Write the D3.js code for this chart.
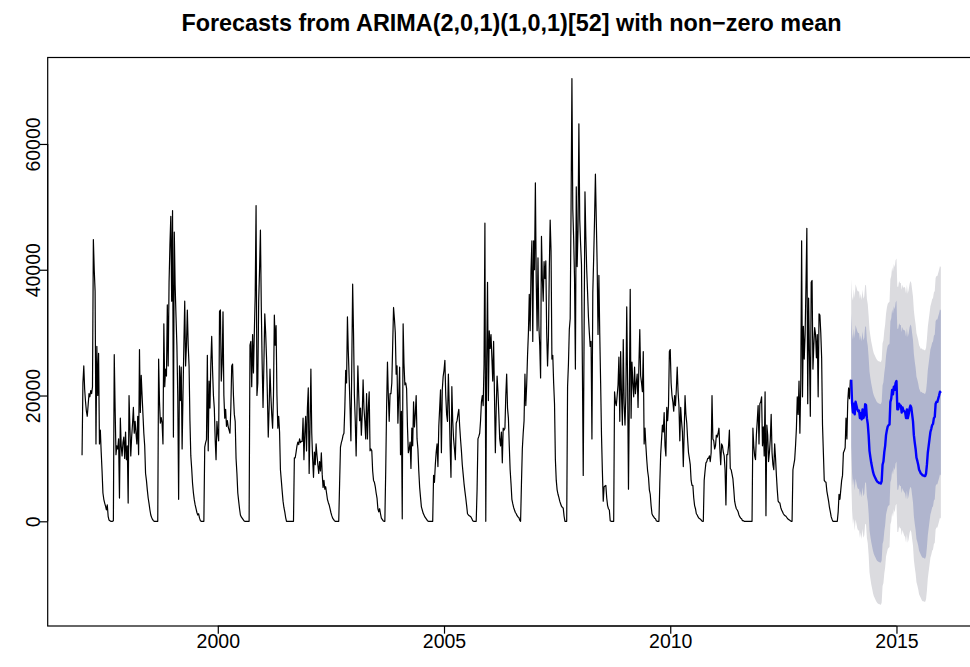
<!DOCTYPE html>
<html>
<head>
<meta charset="utf-8">
<script src="https://cdn.jsdelivr.net/npm/d3@7"></script>
<style>
  html, body { margin: 0; padding: 0; background: #ffffff; overflow: hidden; }
  svg { display: block; }
  text { font-family: "Liberation Sans", Arial, Helvetica, sans-serif; fill: #000; }
</style>
</head>
<body>
<svg id="chart" width="970" height="667"></svg>
<script>
// Weekly series, 52 observations per year, starting 1997 week 1
const startYear = 1997;
const freq = 52;

const obs1997 = [10500,22000,24700,21000,19000,17500,16700,18500,20300,19800,20800,20300,21400,44800,40000,36600,12300,27800,20000,26700,12300,14500,11000,8000,4500,3500,2900,2400,1800,2600,800,200,100,0,0,0,100,26500,18000,10600,12000,11500,13100,3700,16400,12000,10400,12500,13400,10000,14200,9800];
const obs1998 = [12000,2900,20000,15000,10400,13400,15500,18100,14000,15900,14000,12300,16700,10600,27300,17300,23200,20000,17000,14000,12000,7600,6500,5000,3700,2800,1800,1000,600,300,100,0,0,0,0,0,25800,19000,15600,16500,15600,12300,31400,21400,24200,23100,34400,24700,38000,44000,48500,35000];
const obs1999 = [49400,13400,46000,37500,32500,28000,20000,3500,24700,19200,24500,11500,20000,28000,35000,24700,28000,33600,28000,24700,16000,10400,8400,6000,4500,3400,2600,2000,1400,1000,1200,500,100,0,0,0,0,11800,12500,13000,26400,11200,22300,18000,25000,29400,24000,20000,18000,13000,9800,15900];
const obs2000 = [14000,12800,33400,33600,22300,25000,33300,20000,16400,17800,15100,16000,15000,14500,14000,18000,24700,25000,20000,17000,15900,10000,7600,4500,3200,2000,1000,700,500,300,100,0,0,0,0,0,0,28000,28600,21400,29700,23600,30000,36000,50200,20000,22000,35000,40000,46300,34100,25000];
const obs2001 = [18100,25000,33000,30000,26100,20000,13400,18000,24200,20000,17000,14800,20000,32800,28000,31100,20000,14800,16700,14200,8200,6500,4800,3200,2200,1500,600,0,0,0,0,0,0,0,0,0,10100,10100,11000,12000,12600,12200,13100,12500,12700,12700,16400,9800,14000,16700,11200,18000];
const obs2002 = [21200,7600,15000,24200,14000,10000,7000,11000,9000,12300,10500,9000,7600,9500,8000,10900,7500,5400,6500,5100,5500,4500,3500,3000,2600,2000,1400,900,500,300,100,0,0,0,0,0,6000,11800,12500,13000,13700,14000,18000,24000,22000,32500,27000,22800,18000,12800,25000,37700];
const obs2003 = [30000,20000,16000,10400,18000,24700,20000,16000,18000,13700,17000,22500,18000,15900,13100,20300,13100,18000,20600,11200,11500,11200,8000,6500,6200,5500,4500,3700,2000,1500,2000,1200,500,300,100,0,0,8000,18000,25300,20000,15900,20300,20300,22000,28000,34000,32200,30000,23400,24700,15600];
const obs2004 = [20000,24500,10600,17500,400,31400,25000,21700,22000,21100,15000,10900,11500,12600,8400,14800,12000,19000,15000,17000,20000,13100,11500,8000,5400,3800,2300,1800,1300,1000,700,500,300,100,0,0,0,0,0,0,7300,6200,9000,11000,12300,8700,15100,18000,20900,10900,20900,23000];
const obs2005 = [24000,25600,20000,17000,15900,23400,18400,12000,7000,21400,16000,13100,11500,9800,15600,16000,17000,17800,15100,13000,11200,9000,7500,6000,4800,3700,2500,1200,1000,900,800,700,400,100,0,0,0,0,5000,13100,13500,14000,16000,19000,20000,18400,25000,47400,0,25000,38000,19200];
const obs2006 = [30300,27500,29700,26000,22300,28600,20000,10900,18000,23100,20600,17000,13100,12000,14200,9300,14800,14500,14800,20000,23400,18000,16400,12000,8200,6000,3500,2800,2200,1800,1400,1200,900,700,600,200,0,6000,11500,14000,16000,23400,18400,21700,26400,30000,36100,30300,40000,44600,28600,44600];
const obs2007 = [40000,53800,38000,30300,41900,31100,28000,22800,45300,38600,35000,41300,38600,41400,30000,24700,29200,40000,47900,43000,25800,26400,22000,18700,9800,6500,5000,4300,3800,3200,2800,2400,2200,2100,800,0,0,0,21400,25000,30500,32200,49600,70400,49600,45000,38600,24200,53200,40500,46300,63200];
const obs2008 = [48000,44000,40800,25000,7300,30000,52400,45200,40000,36400,32500,30000,27800,28600,13100,36400,41900,48000,55200,48000,40800,29700,39100,29700,22000,13700,8000,3200,5500,5600,5700,3700,2500,2000,1800,100,0,0,0,0,20600,19000,18400,20000,21700,26100,15900,27000,20000,15300,28900,18700];
const obs2009 = [15300,20000,34100,22000,5100,20000,36900,16400,25300,22000,19800,24500,20300,22000,23400,18100,25000,30500,23100,22000,20600,27000,12300,14800,12000,9800,8000,7000,5000,4300,2500,1200,900,700,500,400,100,0,0,0,6000,10600,13000,15300,14200,17300,12000,10400,18100,16000,18400,27000];
const obs2010 = [27300,22000,20000,19000,17500,20000,18400,21000,24500,20600,18400,12800,18100,15900,14200,8700,14000,20000,17000,15600,13000,10900,10000,9000,6500,5700,5700,3700,2500,2000,1200,1000,700,500,400,300,100,0,0,6500,8000,9300,9500,10000,10000,10400,9500,10900,20000,13100,12800,11500];
const obs2011 = [12000,13700,13400,14000,14800,11500,9000,12300,12000,11000,10400,8200,2600,10600,10600,12000,14500,8400,8200,7500,6800,5100,3200,2500,2000,1800,1500,1000,700,500,400,100,100,0,0,0,0,0,0,0,0,0,0,14800,12000,10400,9800,13700,16000,18400,12300,18700];
const obs2012 = [19000,19800,12000,15000,10400,20600,900,15300,13700,9500,11000,13100,17000,10900,9000,8200,12300,10100,7300,5000,3200,3000,2900,2200,1800,1500,1200,1000,900,800,600,400,300,200,100,0,0,8200,9000,9800,12000,14800,19800,17000,22300,14000,22000,44600,19800,31000,25800,29700];
const obs2013 = [37500,46600,18700,35500,26400,16700,38000,38300,24200,28000,30800,29700,26000,29700,19800,33000,32800,30000,26000,15300,10900,6500,6300,6200,4800,4000,3200,2200,1500,700,300,0,0,0,0,0,0,1500,4300,3500,5000,6500,7300,10900,11200,11700,16400,13100,19000,21200,19500,22500];

// Two-year point forecast with 80% and 95% prediction intervals
const fcMean = [22500,18700,17300,18700,17000,19000,18400,17800,17500,17600,16400,17200,16200,17800,16400,16800,18600,18500,16400,15500,13700,11200,10200,9300,8600,7900,7400,7100,6800,6500,6300,6200,6100,6100,6000,6400,9000,9500,11000,12000,13700,14500,15100,15300,15400,19000,19500,20900,20200,21400,20900,22000,22300,17800,17800,18700,18400,18400,17300,18100,17600,17500,17300,16400,17800,16400,17000,17900,18400,18100,17000,15900,13700,12500,11500,10100,9600,9000,8200,7900,7600,7500,7300,7300,7200,7200,7600,9000,10900,12000,13100,14200,14700,15300,15500,16400,16600,18700,19000,19000,19500,20000,20600,20400];
const fcHi95 = [38500,35700,35100,36900,35500,37700,37200,36700,36500,36600,35400,36200,35200,36800,35400,35800,37600,37500,35400,34500,32700,30500,29500,28600,27900,27200,26700,26400,26100,25800,25600,25500,25400,25400,25300,25700,28300,28800,30300,31300,33000,34000,34600,34800,34900,38500,39000,40400,39700,40900,40400,41500,41800,37300,37300,38200,37900,37900,36800,37600,37100,37300,37100,36200,37600,36200,36800,37700,38200,37900,36800,35700,33500,32300,31300,29900,29400,28800,28000,27700,27400,27500,27300,27300,27200,27200,27600,29000,30900,32000,33100,34200,34700,35300,35500,36400,36600,38700,39000,39000,39500,40000,40600,40400];
const fcLo95 = [6500,1700,-500,500,-1500,300,-400,-1100,-1500,-1400,-2600,-1800,-2800,-1200,-2600,-2200,-400,-500,-2600,-3500,-5300,-8100,-9100,-10000,-10700,-11400,-11900,-12200,-12500,-12800,-13000,-13100,-13200,-13200,-13300,-12900,-10300,-9800,-8300,-7300,-5600,-5000,-4400,-4200,-4100,-500,0,1400,700,1900,1400,2500,2800,-1700,-1700,-800,-1100,-1100,-2200,-1400,-1900,-2300,-2500,-3400,-2000,-3400,-2800,-1900,-1400,-1700,-2800,-3900,-6100,-7300,-8300,-9700,-10200,-10800,-11600,-11900,-12200,-12500,-12700,-12700,-12800,-12800,-12400,-11000,-9100,-8000,-6900,-5800,-5300,-4700,-4500,-3600,-3400,-1300,-1000,-1000,-500,0,600,400];
const fcHi80 = [33000,29800,28900,30600,29100,31200,30700,30200,29900,30000,28800,29600,28600,30200,28800,29200,31000,30900,28800,27900,26100,23800,22800,21900,21200,20500,20000,19700,19400,19100,18900,18800,18700,18700,18600,19000,21600,22100,23600,24600,26300,27300,27900,28100,28200,31800,32300,33700,33000,34200,33700,34800,35100,30600,30600,31500,31200,31200,30100,30900,30400,30400,30200,29300,30700,29300,29900,30800,31300,31000,29900,28800,26600,25400,24400,23000,22500,21900,21100,20800,20500,20600,20400,20400,20300,20300,20700,22100,24000,25100,26200,27300,27800,28400,28600,29500,29700,31800,32100,32100,32600,33100,33700,33500];
const fcLo80 = [12000,7600,5700,6800,4900,6800,6100,5400,5100,5200,4000,4800,3800,5400,4000,4400,6200,6100,4000,3100,1300,-1400,-2400,-3300,-4000,-4700,-5200,-5500,-5800,-6100,-6300,-6400,-6500,-6500,-6600,-6200,-3600,-3100,-1600,-600,1100,1700,2300,2500,2600,6200,6700,8100,7400,8600,8100,9200,9500,5000,5000,5900,5600,5600,4500,5300,4800,4600,4400,3500,4900,3500,4100,5000,5500,5200,4100,3000,800,-400,-1400,-2800,-3300,-3900,-4700,-5000,-5300,-5600,-5800,-5800,-5900,-5900,-5500,-4100,-2200,-1100,0,1100,1600,2200,2400,3300,3500,5600,5900,5900,6400,6900,7500,7300];

const xTicks = [2000, 2005, 2010, 2015];
const yTicks = [0, 20000, 40000, 60000];
const chartTitle = "Forecasts from ARIMA(2,0,1)(1,0,1)[52] with non\u2212zero mean";

// ---- assemble time-indexed points ----
const observed = [].concat(obs1997, obs1998, obs1999, obs2000, obs2001, obs2002, obs2003,
  obs2004, obs2005, obs2006, obs2007, obs2008, obs2009, obs2010, obs2011, obs2012, obs2013);
const obsPts = observed.map((v, i) => ({ t: startYear + i / freq, v }));
const fcStart = startYear + observed.length / freq;
const fcPts = fcMean.map((v, i) => ({
  t: fcStart + i / freq, mean: v,
  lo80: fcLo80[i], hi80: fcHi80[i], lo95: fcLo95[i], hi95: fcHi95[i]
}));

// ---- plot region, with 4% padding on both axes as base graphics does ----
const plotLeft = 47.7, plotRight = 975.2, plotTop = 57.5, plotBottom = 626;
const tMin = obsPts[0].t, tMax = fcPts[fcPts.length - 1].t;
const tPad = (tMax - tMin) * 0.04;
const allVals = observed.concat(fcLo95, fcHi95);
const vMin = d3.min(allVals), vMax = d3.max(allVals);
const vPad = (vMax - vMin) * 0.04;

const x = d3.scaleLinear().domain([tMin - tPad, tMax + tPad]).range([plotLeft, plotRight]);
const y = d3.scaleLinear().domain([vMin - vPad, vMax + vPad]).range([plotBottom, plotTop]);

const svg = d3.select("#chart");

// prediction interval shading: 95% underneath, 80% on top
const band = (lo, hi) => d3.area().x(d => x(d.t)).y0(d => y(d[lo])).y1(d => y(d[hi]));
svg.append("path").datum(fcPts).attr("d", band("lo95", "hi95")).attr("fill", "#DBDBDF");
svg.append("path").datum(fcPts).attr("d", band("lo80", "hi80")).attr("fill", "#B0B5CE");

// observed series
svg.append("path").datum(obsPts)
  .attr("d", d3.line().x(d => x(d.t)).y(d => y(d.v)))
  .attr("fill", "none").attr("stroke", "#000").attr("stroke-width", 1.2)
  .attr("stroke-linejoin", "round");

// point forecast
svg.append("path").datum(fcPts)
  .attr("d", d3.line().x(d => x(d.t)).y(d => y(d.mean)))
  .attr("fill", "none").attr("stroke", "#0000FF").attr("stroke-width", 2.4)
  .attr("stroke-linejoin", "round");

// frame
svg.append("rect")
  .attr("x", plotLeft).attr("y", plotTop)
  .attr("width", plotRight - plotLeft).attr("height", plotBottom - plotTop)
  .attr("fill", "none").attr("stroke", "#000").attr("stroke-width", 1.2);

// axes
const tickLen = 7.7;
const xAxis = d3.axisBottom(x).tickValues(xTicks).tickFormat(d3.format("d"))
  .tickSize(tickLen).tickPadding(0.5);
const gx = svg.append("g").attr("transform", `translate(0,${plotBottom})`).call(xAxis);
gx.select(".domain").attr("d", `M${x(xTicks[0])},0H${x(xTicks[xTicks.length - 1])}`);
gx.selectAll("text").attr("font-size", "19.5px").attr("font-family", "Liberation Sans, Arial, sans-serif");

const yAxis = d3.axisLeft(y).tickValues(yTicks).tickFormat(d3.format("d"))
  .tickSize(tickLen).tickPadding(0);
const gy = svg.append("g").attr("transform", `translate(${plotLeft},0)`).call(yAxis);
gy.select(".domain").attr("d", `M0,${y(yTicks[0])}V${y(yTicks[yTicks.length - 1])}`);
gy.selectAll("text")
  .attr("font-size", "19.5px").attr("font-family", "Liberation Sans, Arial, sans-serif")
  .attr("text-anchor", "middle")
  .attr("x", null).attr("dy", null)
  .attr("transform", `translate(${-tickLen - 0.5},0) rotate(-90)`);
svg.selectAll(".tick line").attr("stroke", "#000").attr("stroke-width", 1.2);
svg.selectAll(".domain").attr("stroke", "#000").attr("stroke-width", 1.2);

// title
svg.append("text")
  .attr("x", (plotLeft + plotRight) / 2).attr("y", 31)
  .attr("text-anchor", "middle")
  .attr("font-weight", "bold").attr("font-size", "23.4px")
  .text(chartTitle);
</script>
</body>
</html>
